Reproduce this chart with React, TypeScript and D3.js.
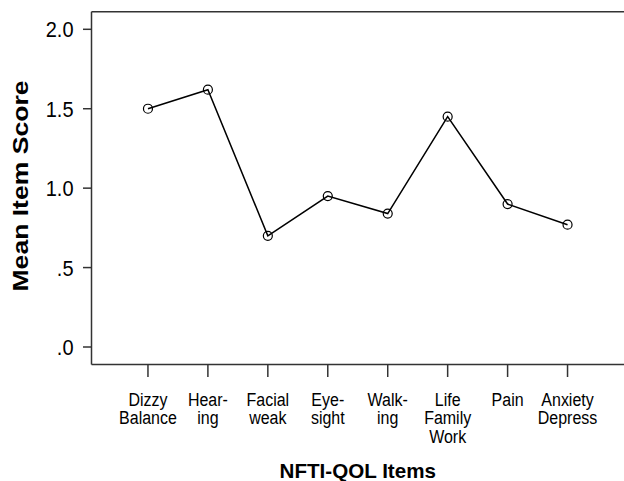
import React from "react";
import * as d3 from "d3";

const categories: string[][] = [
  ["Dizzy", "Balance"],
  ["Hear-", "ing"],
  ["Facial", "weak"],
  ["Eye-", "sight"],
  ["Walk-", "ing"],
  ["Life", "Family", "Work"],
  ["Pain"],
  ["Anxiety", "Depress"],
];
const values: number[] = [1.5, 1.62, 0.7, 0.95, 0.84, 1.45, 0.9, 0.77];
const yTicks: number[] = [0, 0.5, 1.0, 1.5, 2.0];
const yTickLabels: string[] = [".0", ".5", "1.0", "1.5", "2.0"];
const xTitle = "NFTI-QOL Items";
const yTitle = "Mean Item Score";

const W = 624;
const H = 481;
const left = 91.5;
const right = 624;
const top = 11.7;
const bottom = 364.5;
const FONT = "'Liberation Sans', Arial, sans-serif";

export default function App() {
  const keys = categories.map((c) => c.join(" "));
  const x = d3.scalePoint<string>().domain(keys).range([left, right]).padding(0.942);
  const y = d3.scaleLinear().domain([0, 2]).range([347, 29.3]);
  const line = d3
    .line<number>()
    .x((_, i) => x(keys[i]) as number)
    .y((d) => y(d));

  return (
    <svg
      width={W}
      height={H}
      style={{ position: "absolute", left: 0, top: 0, background: "#fff" }}
    >
      <rect x={0} y={0} width={W} height={H} fill="#fff" />
      {/* frame */}
      <line x1={left} x2={right} y1={top} y2={top} stroke="#333" strokeWidth={1.5} />
      <line x1={left} x2={right} y1={bottom} y2={bottom} stroke="#333" strokeWidth={1.5} />
      <line x1={left} x2={left} y1={top} y2={bottom} stroke="#333" strokeWidth={1.5} />
      {/* y ticks */}
      {yTicks.map((t, i) => (
        <g key={"y" + i}>
          <line x1={83} x2={left} y1={y(t)} y2={y(t)} stroke="#333" strokeWidth={1.5} />
          <text
            transform={`translate(73.5,${y(t) + 8}) scale(1,1.12)`}
            textAnchor="end"
            fontFamily={FONT}
            fontSize={20}
            fill="#000"
          >
            {yTickLabels[i]}
          </text>
        </g>
      ))}
      {/* x ticks */}
      {keys.map((k, i) => (
        <g key={"x" + i}>
          <line
            x1={x(k) as number}
            x2={x(k) as number}
            y1={bottom}
            y2={377}
            stroke="#333"
            strokeWidth={1.5}
          />
          {categories[i].map((ln, j) => (
            <text
              key={j}
              transform={`translate(${x(k) as number},${406 + j * 18.4}) scale(1,1.1)`}
              textAnchor="middle"
              fontFamily={FONT}
              fontSize={16}
              fill="#000"
            >
              {ln}
            </text>
          ))}
        </g>
      ))}
      {/* data line */}
      <path d={line(values) || ""} fill="none" stroke="#000" strokeWidth={1.5} />
      {values.map((v, i) => (
        <circle
          key={"c" + i}
          cx={x(keys[i]) as number}
          cy={y(v)}
          r={4.5}
          fill="none"
          stroke="#000"
          strokeWidth={1.2}
        />
      ))}
      {/* titles */}
      <text
        x={(left + right) / 2}
        y={478}
        textAnchor="middle"
        fontFamily={FONT}
        fontWeight="bold"
        fontSize={20.6}
        fill="#000"
      >
        {xTitle}
      </text>
      <text
        transform={`translate(28.3,186) rotate(-90)`}
        textAnchor="middle"
        fontFamily={FONT}
        fontWeight="bold"
        fontSize={22.5}
        textLength={211}
        lengthAdjust="spacingAndGlyphs"
        fill="#000"
      >
        {yTitle}
      </text>
    </svg>
  );
}
